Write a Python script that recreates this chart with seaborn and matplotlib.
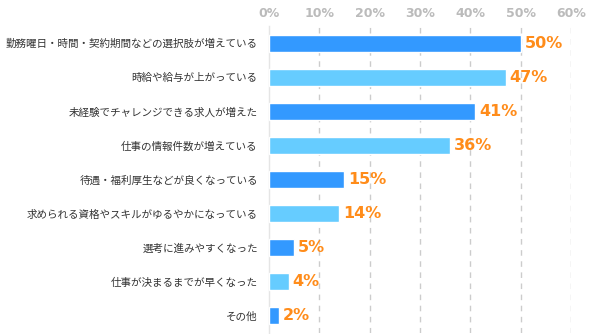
import matplotlib
matplotlib.use("Agg")
import matplotlib.pyplot as plt
import seaborn as sns
import pandas as pd

categories = [
    "勤務曜日・時間・契約期間などの選択肢が増えている",
    "時給や給与が上がっている",
    "未経験でチャレンジできる求人が増えた",
    "仕事の情報件数が増えている",
    "待遇・福利厚生などが良くなっている",
    "求められる資格やスキルがゆるやかになっている",
    "選考に進みやすくなった",
    "仕事が決まるまでが早くなった",
    "その他",
]
values = [50, 47, 41, 36, 15, 14, 5, 4, 2]
tick_values = [0, 10, 20, 30, 40, 50, 60]
tick_labels = ["0%", "10%", "20%", "30%", "40%", "50%", "60%"]

sns.set_theme(style="white")
plt.rcParams["font.family"] = ["Noto Sans CJK JP", "DejaVu Sans"]

df = pd.DataFrame({"cat": categories, "val": values})
colors = ["#3399FF" if i % 2 == 0 else "#66CCFF" for i in range(len(categories))]

fig = plt.figure(figsize=(6, 3.34), dpi=100)
ax = fig.add_axes([0.448, 0.003, 0.504, 0.919])

sns.barplot(data=df, x="val", y="cat", hue="cat", palette=colors, legend=False,
            width=0.5, ax=ax, saturation=1, zorder=3)

ax.set_xlim(0, 60)
ax.set_ylim(len(categories) - 0.5, -0.5)
ax.xaxis.tick_top()
ax.set_xticks(tick_values)
ax.set_xticklabels(tick_labels, color="#BBBBBB", fontsize=9, fontweight="bold",
                   family=["DejaVu Sans"])
ax.tick_params(axis="x", length=0, pad=4)
ax.tick_params(axis="y", length=0, pad=8, labelsize=7.6, labelcolor="#333333")
ax.set_xlabel("")
ax.set_ylabel("")
for t in tick_values[1:]:
    ax.axvline(t, color="#CCCCCC", linestyle=(0, (4, 4)), linewidth=1, zorder=1)
for s in ["top", "right", "bottom"]:
    ax.spines[s].set_visible(False)
ax.spines["left"].set_color("#E5E5E5")
ax.spines["left"].set_linewidth(1)

for i, v in enumerate(values):
    ax.text(v + 0.7, i, f"{v}%", va="center", ha="left", color="#FF8C1A",
            fontsize=11.5, fontweight="bold", family=["DejaVu Sans"], zorder=4)

fig.savefig("out.png", dpi=100)
